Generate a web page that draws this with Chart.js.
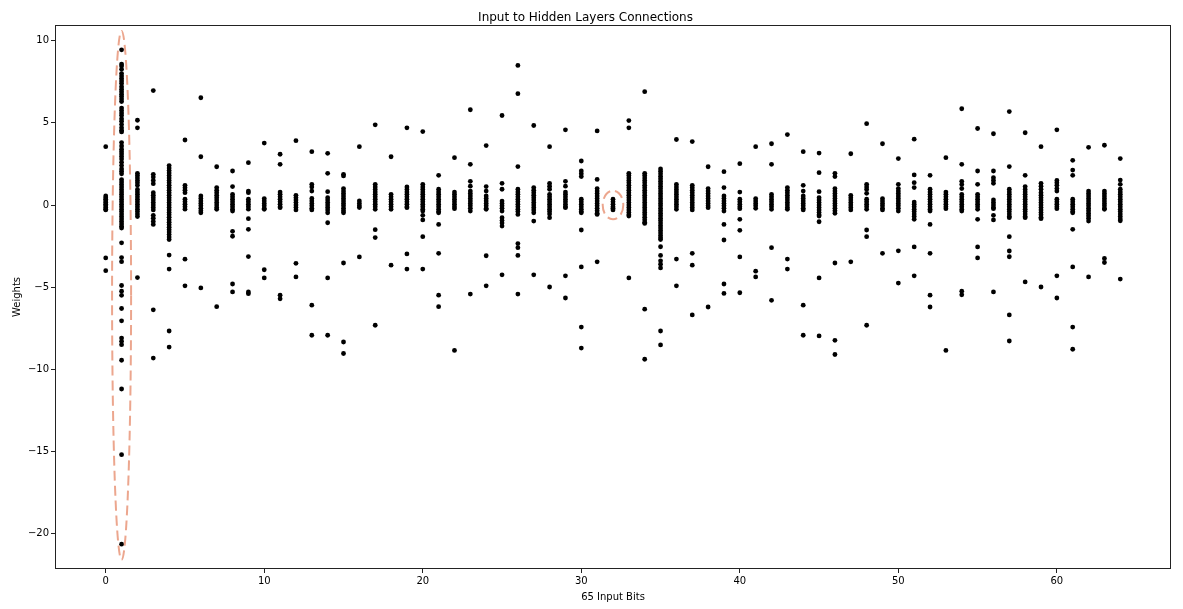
<!DOCTYPE html>
<html>
<head>
<meta charset="utf-8">
<title>Input to Hidden Layers Connections</title>
<script src="https://cdn.jsdelivr.net/npm/chart.js@4.4.1/dist/chart.umd.min.js"></script>
<style>
  body { margin: 0; background: #fff; }
  canvas { display: block; }
</style>
</head>
<body>
<canvas id="chartPesos" width="1183" height="609"></canvas>
<script>
// Bits de entrada (eje x)
const inputBits = [
  0, 1, 2, 3, 4, 5, 6, 7, 8, 9, 10, 11, 12, 13, 14, 15, 16, 17, 18, 19, 20, 21,
  22, 23, 24, 25, 26, 27, 28, 29, 30, 31, 32, 33, 34, 35, 36, 37, 38, 39, 40, 41,
  42, 43, 44, 45, 46, 47, 48, 49, 50, 51, 52, 53, 54, 55, 56, 57, 58, 59, 60, 61,
  62, 63, 64
];

// Pesos de cada bit hacia las neuronas ocultas (una fila por bit)
const weights = [
  [3.55, 0.55, 0.45, 0.35, 0.25, 0.15, 0.05, -0.05, -0.15, -0.25, -0.3, -3.22, -4.0],
  [9.45, 8.58, 8.47, 8.26, 8.0, 7.85, 7.7, 7.55, 7.4, 7.2, 7.05, 6.9, 6.75, 6.6, 6.45, 6.3,
   5.9, 5.75, 5.6, 5.45, 5.25, 5.1, 4.9, 4.7, 4.55, 4.45, 3.8, 3.6, 3.4, 3.25, 3.1, 2.95,
   2.8, 2.6, 2.4, 2.2, 2.05, 1.9, 1.55, 1.4, 1.25, 1.1, 0.95, 0.8, 0.65, 0.5, 0.35, 0.2,
   0.05, -0.1, -0.25, -0.4, -0.55, -0.7, -0.85, -1.0, -1.15, -1.3, -1.4, -2.3, -3.2, -3.45,
   -4.9, -5.25, -5.5, -6.3, -7.05, -8.1, -8.3, -8.5, -9.45, -11.2, -15.2, -20.65],
  [5.16, 4.7, 1.93, 1.8, 1.65, 1.5, 1.35, 1.2, 0.95, 0.8, 0.65, 0.5, 0.35, 0.2, 0.05, -0.1,
   -0.25, -0.4, -0.55, -0.7, -4.42],
  [6.97, 1.87, 1.7, 1.5, 1.3, 0.75, 0.6, 0.45, 0.3, 0.15, 0.0, -0.15, -0.3, -0.63, -0.8,
   -1.0, -1.18, -6.38, -9.32],
  [2.4, 2.25, 2.1, 1.95, 1.8, 1.65, 1.5, 1.35, 1.2, 1.05, 0.9, 0.75, 0.6, 0.45, 0.3, 0.15,
   0.0, -0.15, -0.3, -0.45, -0.6, -0.75, -0.9, -1.05, -1.2, -1.35, -1.5, -1.65, -1.8, -1.95,
   -2.1, -3.05, -3.9, -7.67, -8.65],
  [3.96, 1.2, 1.05, 0.9, 0.75, 0.35, 0.2, 0.05, -0.1, -0.25, -3.3, -4.92],
  [6.53, 2.94, 0.55, 0.4, 0.25, 0.1, -0.05, -0.2, -0.35, -0.47, -5.05],
  [2.33, 1.06, 0.9, 0.75, 0.6, 0.45, 0.3, 0.15, 0.0, -0.15, -0.26, -6.19],
  [2.07, 1.12, 0.65, 0.5, 0.35, 0.2, 0.05, -0.1, -0.25, -0.37, -1.6, -1.9, -4.81, -5.29],
  [2.58, 0.85, 0.75, 0.35, 0.2, 0.05, -0.1, -0.25, -0.83, -1.48, -3.14, -5.29, -5.4],
  [3.77, 0.39, 0.25, 0.1, -0.05, -0.2, -0.26, -3.94, -4.44],
  [3.09, 2.48, 0.79, 0.65, 0.5, 0.35, 0.2, 0.05, -0.1, -0.16, -5.49, -5.71],
  [3.92, 0.59, 0.45, 0.3, 0.15, 0.0, -0.15, -0.3, -3.55, -4.38],
  [3.25, 1.26, 1.1, 0.85, 0.4, 0.25, 0.1, -0.05, -0.2, -0.3, -6.1, -7.93],
  [3.15, 1.93, 0.81, 0.45, 0.3, 0.15, 0.0, -0.15, -0.3, -0.47, -1.08, -4.44, -7.93],
  [1.87, 1.77, 1.0, 0.85, 0.7, 0.55, 0.4, 0.25, 0.1, -0.05, -0.2, -0.35, -0.47, -3.53,
   -8.34, -9.04],
  [3.55, 0.25, 0.1, -0.05, -0.15, -3.16],
  [4.88, 1.26, 1.1, 0.95, 0.8, 0.65, 0.5, 0.35, 0.2, 0.05, -0.1, -0.26, -1.5, -1.98, -7.32],
  [2.94, 0.65, 0.5, 0.35, 0.2, 0.05, -0.1, -0.26, -3.66],
  [4.7, 1.1, 0.95, 0.8, 0.65, 0.5, 0.35, 0.2, 0.05, -0.1, -0.16, -2.98, -3.9],
  [4.47, 1.26, 1.1, 0.95, 0.8, 0.65, 0.5, 0.35, 0.2, 0.05, -0.1, -0.25, -0.37, -0.63,
   -0.91, -1.93, -3.9],
  [1.81, 0.96, 0.8, 0.65, 0.5, 0.35, 0.2, 0.05, -0.1, -0.25, -0.4, -0.47, -1.18, -2.94,
   -5.49, -6.19],
  [2.88, 0.79, 0.65, 0.5, 0.35, 0.2, 0.05, -0.1, -0.22, -8.85],
  [5.8, 2.48, 1.44, 1.15, 0.85, 0.7, 0.55, 0.4, 0.25, 0.1, -0.05, -0.2, -0.37, -5.42],
  [3.62, 1.12, 0.85, 0.55, 0.4, 0.25, 0.1, -0.05, -0.2, -0.26, -3.09, -4.92],
  [5.45, 1.32, 0.96, 0.24, 0.1, -0.05, -0.2, -0.37, -0.77, -0.95, -1.1, -1.28, -4.25],
  [8.5, 6.78, 2.34, 0.96, 0.8, 0.65, 0.5, 0.35, 0.2, 0.05, -0.1, -0.25, -0.4, -0.57,
   -2.35, -2.6, -3.07, -5.42],
  [4.84, 1.06, 0.9, 0.75, 0.6, 0.45, 0.3, 0.15, 0.0, -0.15, -0.3, -0.47, -0.98, -4.25],
  [3.55, 1.32, 1.15, 0.96, 0.65, 0.5, 0.35, 0.2, 0.05, -0.1, -0.25, -0.4, -0.55, -0.77,
   -4.99],
  [4.58, 1.44, 1.15, 0.79, 0.65, 0.5, 0.35, 0.2, 0.05, -0.1, -0.16, -4.31, -5.66],
  [2.68, 2.07, 1.9, 1.73, 0.35, 0.2, 0.05, -0.1, -0.25, -0.4, -0.47, -1.52, -3.77, -7.43,
   -8.71],
  [4.51, 1.56, 1.0, 0.85, 0.7, 0.55, 0.4, 0.25, 0.1, -0.05, -0.2, -0.35, -0.5, -0.57,
   -3.46],
  [0.35, 0.2, 0.05, -0.1, -0.2, -0.3],
  [5.14, 4.7, 1.93, 1.8, 1.65, 1.5, 1.35, 1.2, 1.05, 0.9, 0.75, 0.6, 0.45, 0.3, 0.15, 0.0,
   -0.15, -0.3, -0.45, -0.6, -0.67, -4.44],
  [6.9, 1.93, 1.8, 1.65, 1.5, 1.35, 1.2, 1.05, 0.9, 0.75, 0.6, 0.45, 0.3, 0.15, 0.0, -0.15,
   -0.3, -0.45, -0.6, -0.75, -0.9, -1.05, -1.12, -6.34, -9.39],
  [2.2, 2.05, 1.9, 1.75, 1.6, 1.45, 1.3, 1.15, 1.0, 0.85, 0.7, 0.55, 0.4, 0.25, 0.1, -0.05,
   -0.2, -0.35, -0.5, -0.65, -0.8, -0.95, -1.1, -1.25, -1.4, -1.55, -1.7, -1.85, -2.0,
   -2.1, -2.54, -3.07, -3.4, -3.6, -3.83, -7.67, -8.52],
  [3.99, 1.26, 1.1, 0.95, 0.8, 0.65, 0.5, 0.35, 0.2, 0.05, -0.1, -0.26, -3.29, -4.92],
  [3.86, 1.2, 1.05, 0.9, 0.75, 0.6, 0.45, 0.3, 0.15, 0.0, -0.15, -0.3, -2.94, -3.66, -6.69],
  [2.33, 1.0, 0.85, 0.7, 0.55, 0.4, 0.25, 0.1, -0.05, -0.16, -6.21],
  [2.03, 1.06, 0.55, 0.4, 0.25, 0.1, -0.05, -0.2, -0.37, -1.18, -2.13, -4.81, -5.38],
  [2.52, 0.79, 0.35, 0.2, 0.05, -0.1, -0.22, -0.87, -1.54, -3.16, -5.34],
  [3.55, 0.39, 0.25, 0.1, -0.05, -0.2, -4.03, -4.38],
  [3.73, 2.48, 0.65, 0.5, 0.35, 0.2, 0.05, -0.1, -0.26, -2.6, -5.8],
  [4.29, 1.06, 0.9, 0.75, 0.6, 0.45, 0.3, 0.15, 0.0, -0.15, -0.26, -3.29, -3.9],
  [3.25, 1.2, 0.85, 0.55, 0.4, 0.25, 0.1, -0.05, -0.2, -0.3, -6.1, -7.93],
  [3.16, 1.97, 0.81, 0.45, 0.3, 0.15, 0.0, -0.15, -0.3, -0.45, -0.6, -0.67, -1.02, -4.44,
   -7.97],
  [1.93, 1.73, 1.0, 0.85, 0.7, 0.55, 0.4, 0.25, 0.1, -0.05, -0.2, -0.35, -0.5, -3.53,
   -8.24, -9.1],
  [3.12, 0.59, 0.45, 0.3, 0.15, 0.0, -0.15, -0.3, -3.46],
  [4.95, 1.26, 1.1, 0.95, 0.71, 0.35, 0.2, 0.05, -0.1, -0.26, -1.52, -1.93, -7.32],
  [3.73, 0.39, 0.25, 0.1, -0.05, -0.2, -0.3, -2.94],
  [2.83, 1.26, 1.0, 0.85, 0.7, 0.55, 0.4, 0.25, 0.1, -0.05, -0.2, -0.37, -2.79, -4.75],
  [4.01, 1.83, 1.36, 1.06, 0.18, 0.05, -0.1, -0.25, -0.4, -0.55, -0.7, -0.87, -2.55, -4.31],
  [1.81, 0.96, 0.8, 0.65, 0.5, 0.35, 0.2, 0.05, -0.1, -0.25, -0.37, -1.18, -2.94, -5.49,
   -6.21],
  [2.88, 0.79, 0.65, 0.5, 0.35, 0.2, 0.05, -0.1, -0.22, -8.85],
  [5.86, 2.48, 1.44, 1.25, 1.0, 0.65, 0.5, 0.35, 0.2, 0.05, -0.1, -0.25, -0.37, -5.25,
   -5.47],
  [4.66, 2.07, 1.26, 0.65, 0.5, 0.35, 0.2, 0.05, -0.1, -0.26, -0.87, -2.55, -3.22],
  [4.34, 2.07, 1.66, 1.5, 1.32, 0.31, 0.15, 0.0, -0.15, -0.22, -0.63, -0.91, -5.29],
  [5.69, 2.34, 0.96, 0.8, 0.65, 0.5, 0.35, 0.2, 0.05, -0.1, -0.25, -0.4, -0.55, -0.7,
   -0.77, -1.93, -2.8, -3.15, -6.69, -8.28],
  [4.4, 1.81, 1.12, 0.95, 0.8, 0.65, 0.5, 0.35, 0.2, 0.05, -0.1, -0.25, -0.4, -0.55, -0.7,
   -0.77, -4.68],
  [3.55, 1.32, 1.15, 0.96, 0.75, 0.6, 0.45, 0.3, 0.15, 0.0, -0.15, -0.3, -0.45, -0.6,
   -0.75, -0.83, -4.99],
  [4.58, 1.5, 1.35, 1.2, 1.0, 0.85, 0.35, 0.2, 0.05, -0.1, -0.22, -4.31, -5.66],
  [2.72, 2.13, 1.81, 0.35, 0.2, 0.05, -0.1, -0.25, -0.4, -0.47, -1.48, -3.77, -7.43, -8.78],
  [3.51, 0.85, 0.7, 0.55, 0.4, 0.25, 0.1, -0.05, -0.2, -0.35, -0.5, -0.65, -0.8, -0.98,
   -4.38],
  [3.64, 0.85, 0.7, 0.55, 0.4, 0.25, 0.1, -0.05, -0.2, -0.26, -3.25, -3.5],
  [2.83, 1.52, 1.26, 0.96, 0.8, 0.65, 0.5, 0.35, 0.2, 0.05, -0.1, -0.25, -0.4, -0.55,
   -0.7, -0.85, -0.96, -4.51]
];

// Marcas de los ejes
const xTicks = [0, 10, 20, 30, 40, 50, 60];
const yTicks = [-20, -15, -10, -5, 0, 5, 10];

// Elipses resaltadas: [x, y, radioX, radioY] en unidades de datos
const highlightBit1 = [1.0, -5.5, 0.6, 16.1];
const highlightBit32 = [32.0, 0.0, 0.65, 0.87];

const puntos = weights.flatMap((col, i) => col.map(v => ({ x: inputBits[i], y: v })));

const fuente = "'DejaVu Sans', sans-serif";

// Dibuja el marco completo y las elipses discontinuas
const marcoPlugin = {
  id: 'marco',
  afterDatasetsDraw(chart) {
    const { ctx, chartArea, scales: { x, y } } = chart;
    ctx.save();
    [highlightBit1, highlightBit32].forEach(([cx, cy, rx, ry]) => {
      const px = x.getPixelForValue(cx);
      const py = y.getPixelForValue(cy);
      const prx = Math.abs(x.getPixelForValue(cx + rx) - px);
      const pry = Math.abs(y.getPixelForValue(cy + ry) - py);
      ctx.beginPath();
      ctx.setLineDash([10, 5]);
      ctx.lineWidth = 2;
      ctx.strokeStyle = 'rgba(233, 150, 122, 0.85)';
      ctx.ellipse(px, py, prx, pry, 0, 0, Math.PI * 2);
      ctx.stroke();
    });
    ctx.setLineDash([]);
    ctx.lineWidth = 1;
    ctx.strokeStyle = '#222';
    ctx.strokeRect(chartArea.left + 0.5, chartArea.top + 0.5,
      chartArea.right - chartArea.left - 1, chartArea.bottom - chartArea.top - 1);
    ctx.restore();
  }
};

new Chart(document.getElementById('chartPesos'), {
  type: 'scatter',
  data: {
    datasets: [{
      label: 'Weights',
      data: puntos,
      backgroundColor: '#000',
      borderWidth: 0,
      pointRadius: 2.4,
      pointHoverRadius: 2.4
    }]
  },
  options: {
    responsive: false,
    animation: false,
    layout: { padding: { left: 0, right: 12, top: 0, bottom: 0 } },
    plugins: {
      legend: { display: false },
      tooltip: { enabled: false },
      title: {
        display: true,
        text: 'Input to Hidden Layers Connections',
        color: '#000',
        font: { family: fuente, size: 12, weight: 'normal', lineHeight: 1 },
        padding: { top: 12, bottom: 1 }
      }
    },
    scales: {
      x: {
        type: 'linear',
        min: -3.2,
        max: 67.2,
        afterFit: s => { s.height = 40; },
        afterBuildTicks: s => { s.ticks = xTicks.map(v => ({ value: v })); },
        grid: { drawOnChartArea: false, drawTicks: true, tickLength: 4, color: '#222' },
        border: { display: false },
        ticks: {
          color: '#000',
          padding: 2,
          maxRotation: 0,
          font: { family: fuente, size: 10 }
        },
        title: {
          display: true,
          text: '65 Input Bits',
          color: '#000',
          font: { family: fuente, size: 10 },
          padding: { top: 0, bottom: 6 }
        }
      },
      y: {
        type: 'linear',
        min: -22.16,
        max: 10.96,
        afterFit: s => { s.width = 55; },
        afterBuildTicks: s => { s.ticks = yTicks.map(v => ({ value: v })); },
        grid: { drawOnChartArea: false, drawTicks: true, tickLength: 4, color: '#222' },
        border: { display: false },
        ticks: {
          color: '#000',
          padding: 2,
          font: { family: fuente, size: 10 },
          callback: v => (v < 0 ? '\u2212' + Math.abs(v) : String(v))
        },
        title: {
          display: true,
          text: 'Weights',
          color: '#000',
          font: { family: fuente, size: 10 },
          padding: { top: 11, bottom: 0 }
        }
      }
    }
  },
  plugins: [marcoPlugin]
});
</script>
</body>
</html>
